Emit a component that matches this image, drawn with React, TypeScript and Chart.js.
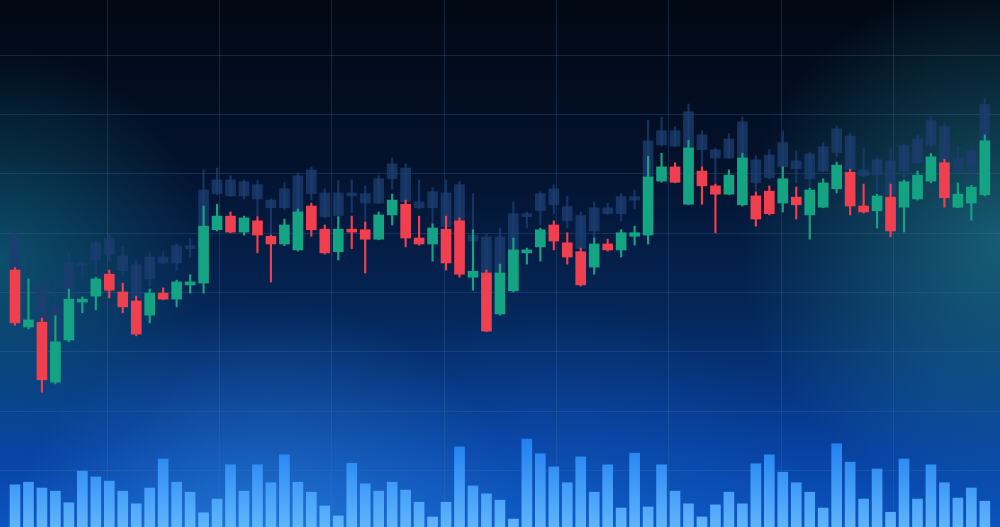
import React, { useEffect, useRef } from "react";
import { Chart, registerables } from "chart.js";

Chart.register(...registerables);

// Candlestick values (price units), one per session
const OPEN = [
  43.8, 34.2, 35.0, 24.9, 32.0, 38.4, 39.4, 43.1, 40.1, 38.6,
  36.2, 39.9, 38.9, 41.3, 41.6, 50.6, 52.9, 50.2, 52.1, 49.5,
  48.2, 47.2, 54.6, 50.7, 46.9, 50.7, 50.6, 49.0, 53.1, 54.9,
  49.2, 48.2, 50.7, 52.1, 42.6, 43.3, 36.4, 40.3, 46.7, 47.7,
  51.4, 48.4, 46.9, 44.3, 48.2, 47.2, 49.5, 49.7, 58.8, 61.2,
  54.9, 60.5, 58.0, 56.6, 54.8, 56.3, 57.1, 55.1, 56.1, 53.1,
  54.4, 57.5, 60.3, 54.6, 53.8, 56.1, 54.4, 55.8, 58.8, 61.9,
  54.4, 55.1, 56.5,
];
const CLOSE = [
  34.9, 35.4, 25.3, 31.7, 38.9, 38.9, 42.3, 40.4, 37.6, 33.0,
  39.9, 38.9, 41.8, 41.8, 51.2, 52.9, 50.2, 52.6, 49.7, 48.2,
  51.4, 53.6, 50.6, 46.7, 50.7, 50.2, 49.0, 53.1, 55.6, 49.2,
  48.2, 50.9, 45.0, 43.1, 43.6, 33.5, 43.3, 47.2, 47.2, 50.6,
  48.7, 46.0, 41.3, 48.2, 47.2, 50.1, 50.1, 59.5, 61.2, 58.6,
  64.4, 58.0, 56.6, 59.8, 62.7, 52.4, 53.3, 59.2, 54.8, 57.3,
  58.5, 61.5, 54.6, 53.6, 56.3, 50.4, 58.7, 59.8, 62.9, 56.0,
  56.6, 57.8, 65.6,
];
const HIGH = [
  44.2, 42.3, 35.7, 36.1, 40.6, 39.3, 42.6, 43.8, 41.6, 39.4,
  40.6, 40.8, 42.1, 43.0, 54.6, 54.9, 53.6, 52.9, 52.8, 49.7,
  52.4, 54.1, 55.1, 51.4, 52.8, 52.9, 51.9, 53.6, 56.6, 55.6,
  52.9, 51.6, 52.9, 52.6, 50.6, 43.8, 44.8, 49.2, 47.5, 50.9,
  52.1, 50.1, 47.5, 49.2, 49.0, 50.6, 51.2, 63.0, 63.5, 61.9,
  65.7, 61.2, 58.3, 60.7, 63.5, 57.0, 58.0, 61.2, 57.8, 57.6,
  59.2, 62.0, 60.8, 58.3, 56.6, 58.3, 59.0, 60.5, 63.5, 62.5,
  58.5, 58.1, 66.6,
];
const LOW = [
  34.5, 33.9, 23.2, 24.6, 31.7, 36.6, 37.1, 39.1, 36.6, 32.7,
  34.9, 38.8, 37.6, 39.9, 39.9, 50.4, 50.1, 49.7, 46.7, 41.8,
  47.9, 47.0, 49.5, 46.5, 45.5, 47.4, 43.3, 48.9, 51.4, 47.7,
  48.0, 45.3, 43.8, 42.6, 40.4, 33.4, 36.2, 40.1, 44.8, 45.3,
  47.2, 44.8, 41.1, 43.1, 47.0, 46.0, 48.0, 48.2, 58.6, 58.5,
  54.8, 54.9, 50.1, 56.5, 54.6, 51.2, 53.1, 53.6, 52.4, 49.0,
  54.3, 56.8, 53.1, 53.4, 50.9, 49.4, 50.2, 55.6, 58.5, 54.4,
  54.3, 52.2, 56.3,
];
// Trading volume, one per session
const VOLUME = [
  80, 85, 74, 68, 46, 106, 95, 87, 68, 44,
  74, 129, 85, 66, 27, 53, 118, 68, 118, 84,
  137, 85, 66, 40, 21, 121, 82, 68, 85, 70,
  47, 19, 47, 152, 78, 63, 51, 15, 167, 139,
  114, 84, 133, 66, 118, 36, 140, 38, 118, 68,
  44, 19, 42, 66, 44, 120, 137, 104, 84, 66,
  36, 158, 123, 53, 110, 28, 129, 53, 118, 84,
  55, 74, 49,
];
// Price grid levels
const PRICE_GRID = [10, 20, 30, 40, 50, 60, 70, 80];

const GREEN = "#14a383";
const RED = "#f0404f";
const SHADOW = "rgba(28, 62, 112, 0.78)";
const SHADOW_SHIFT = 6.1;
const GRID = "rgba(70, 118, 170, 0.26)";

export default function App() {
  const ref = useRef<HTMLCanvasElement>(null);

  useEffect(() => {
    const canvas = ref.current;
    if (!canvas) return;
    const idx = OPEN.map((_, i) => i);
    const colors = idx.map((i) => (CLOSE[i] >= OPEN[i] ? GREEN : RED));

    const background = {
      id: "background",
      beforeDraw(chart: any) {
        const { ctx, width, height } = chart;
        ctx.save();
        const lg = ctx.createLinearGradient(0, 0, 0, height);
        lg.addColorStop(0, "#020813");
        lg.addColorStop(0.3, "#03112a");
        lg.addColorStop(0.6, "#05275a");
        lg.addColorStop(0.85, "#0841a0");
        lg.addColorStop(1, "#0b55c0");
        ctx.fillStyle = lg;
        ctx.fillRect(0, 0, width, height);

        const glow = (x: number, y: number, r: number, c0: string, c1: string) => {
          const g = ctx.createRadialGradient(x, y, 0, x, y, r);
          g.addColorStop(0, c0);
          g.addColorStop(1, c1);
          ctx.fillStyle = g;
          ctx.fillRect(0, 0, width, height);
        };
        glow(0, 260, 210, "rgba(25,150,160,0.40)", "rgba(25,150,160,0)");
        glow(1000, 240, 260, "rgba(45,170,175,0.45)", "rgba(45,170,175,0)");
        glow(270, 560, 260, "rgba(70,175,255,0.40)", "rgba(70,175,255,0)");
        glow(560, 560, 260, "rgba(30,120,230,0.25)", "rgba(30,120,230,0)");
        ctx.restore();
      },
    };

    const volGradient = (c: any) => {
      const chart = c.chart;
      const area = chart.chartArea;
      if (!area) return "#2b8cf5";
      const top = chart.scales.yv.getPixelForValue(170);
      const g = chart.ctx.createLinearGradient(0, top, 0, area.bottom);
      g.addColorStop(0, "rgba(30,130,245,0.95)");
      g.addColorStop(1, "rgba(100,185,255,0.95)");
      return g;
    };

    const chart = new Chart(canvas, {
      type: "bar",
      data: {
        datasets: [
          {
            label: "Volume",
            data: idx.map((i) => ({ x: i, y: VOLUME[i] })),
            yAxisID: "yv",
            backgroundColor: volGradient,
            barThickness: 10,
            grouped: false,
            order: 5,
          } as any,
          {
            label: "Shadow wick",
            data: idx.map((i) => ({ x: i, y: [LOW[i] + SHADOW_SHIFT, HIGH[i] + SHADOW_SHIFT] })),
            yAxisID: "y",
            backgroundColor: SHADOW,
            barThickness: 1.5,
            grouped: false,
            order: 4,
          },
          {
            label: "Shadow body",
            data: idx.map((i) => ({ x: i, y: [OPEN[i] + SHADOW_SHIFT, CLOSE[i] + SHADOW_SHIFT] })),
            yAxisID: "y",
            backgroundColor: SHADOW,
            barThickness: 10,
            grouped: false,
            order: 3,
          },
          {
            label: "Wick",
            data: idx.map((i) => ({ x: i, y: [LOW[i], HIGH[i]] })),
            yAxisID: "y",
            backgroundColor: colors,
            barThickness: 1.5,
            grouped: false,
            order: 2,
          },
          {
            label: "Body",
            data: idx.map((i) => ({ x: i, y: [OPEN[i], CLOSE[i]] })),
            yAxisID: "y",
            backgroundColor: colors,
            barThickness: 10,
            grouped: false,
            order: 1,
          },
        ] as any,
      },
      options: {
        responsive: false,
        devicePixelRatio: 1,
        animation: false,
        events: [],
        layout: { padding: 0 },
        plugins: { legend: { display: false }, tooltip: { enabled: false } },
        scales: {
          x: {
            type: "linear",
            min: -1.1136,
            max: 73.126,
            offset: false,
            afterBuildTicks: (scale: any) => {
              const t = [];
              for (let k = 0; k < 8; k++) t.push({ value: 6.852 + 8.337 * k });
              scale.ticks = t;
            },
            ticks: { display: false },
            grid: { color: GRID, lineWidth: 1, drawTicks: false, offset: false },
            border: { display: false },
          },
          y: {
            type: "linear",
            min: 0.472,
            max: 89.342,
            afterBuildTicks: (scale: any) => {
              scale.ticks = PRICE_GRID.map((v) => ({ value: v }));
            },
            ticks: { display: false },
            grid: { color: GRID, lineWidth: 1, drawTicks: false },
            border: { display: false },
          },
          yv: {
            type: "linear",
            display: false,
            min: 0,
            max: 1000,
          },
        },
      } as any,
      plugins: [background],
    });
    return () => chart.destroy();
  }, []);

  return (
    <div style={{ position: "fixed", left: 0, top: 0, width: 1000, height: 527 }}>
      <canvas ref={ref} width={1000} height={527} style={{ display: "block" }} />
    </div>
  );
}
